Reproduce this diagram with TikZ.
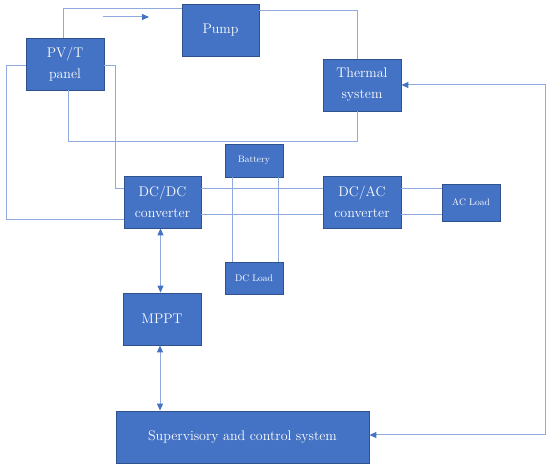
\documentclass[tikz,border=0pt]{standalone}
\usetikzlibrary{arrows.meta}
\definecolor{boxblue}{HTML}{4472C4}
\definecolor{boxedge}{HTML}{2F528F}
\definecolor{linkblue}{HTML}{8FAADC}
\tikzset{
  blk/.style={draw=boxedge, line width=0.8pt, fill=boxblue, text=white, align=center,
    inner sep=1pt, font=\fontsize{14}{21}\selectfont},
  small/.style={font=\fontsize{9.5}{11}\selectfont},
  link/.style={draw=linkblue, line width=1pt},
  arr/.style={link, {Triangle[width=6pt,length=7pt,color=boxblue]}-{Triangle[width=6pt,length=7pt,color=boxblue]}}
}
\begin{document}
\begin{tikzpicture}[x=1pt, y=-1pt]
  \useasboundingbox (0,0) rectangle (550,468);
  % blocks
  \node[blk, minimum width=78pt, minimum height=52pt] (pv) at (65,64) {PV/T\\panel};
  \node[blk, minimum width=77pt, minimum height=52pt] (pump) at (220.5,30) {Pump};
  \node[blk, minimum width=78pt, minimum height=52pt] (thermal) at (362,85) {Thermal\\system};
  \node[blk, small, minimum width=58pt, minimum height=33pt] (battery) at (254,160.5) {Battery};
  \node[blk, minimum width=77pt, minimum height=52pt] (dcdc) at (162.5,202) {DC/DC\\converter};
  \node[blk, small, minimum width=58pt, minimum height=32pt] (dcload) at (254,278) {DC Load};
  \node[blk, minimum width=78pt, minimum height=52pt] (dcac) at (362,202) {DC/AC\\converter};
  \node[blk, small, minimum width=58pt, minimum height=37pt] (acload) at (471,202.5) {AC Load};
  \node[blk, minimum width=78pt, minimum height=52pt] (mppt) at (162,319) {MPPT};
  \node[blk, minimum width=253pt, minimum height=52pt] (sup) at (242.5,437) {Supervisory and control system};
  % flow direction
  \coordinate (flowA) at (103,17);
  \coordinate (flowB) at (149,17);
  \draw[link, -{Triangle[width=6pt,length=7pt,color=boxblue]}] (flowA) -- (flowB);
  % thermal loop
  \draw[link] ([xshift=-2pt]pv.north) |- ([yshift=-5pt]pump.north west);
  \draw[link] ([yshift=-7pt]pump.north east) -| ([xshift=-5pt]thermal.north);
  \draw[link] ([xshift=3pt]pv.south) -- ++(0,51) -| ([xshift=-5pt]thermal.south);
  % electrical
  \draw[link] ([yshift=-2pt]pv.west) -- ++(-19,0) |- ([yshift=-18pt]dcdc.west);
  \draw[link] ([yshift=-2pt]pv.east) -- ++(11,0) |- ([yshift=13pt]dcdc.west);
  \draw[link] ([yshift=13pt]dcdc.east) -- ([yshift=13pt]dcac.west);
  \draw[link] ([yshift=-13pt]dcdc.east) -- ([yshift=-13pt]dcac.west);
  \draw[link] ([xshift=-22pt]battery.south) -- ([xshift=-22pt]dcload.north);
  \draw[link] ([xshift=24pt]battery.south) -- ([xshift=24pt]dcload.north);
  \draw[link] ([yshift=13pt]dcac.east) -- ([yshift=13pt]dcac.east -| acload.west);
  \draw[link] ([yshift=-13pt]dcac.east) -- ([yshift=-13pt]dcac.east -| acload.west);
  % control
  \draw[arr] ([xshift=-2pt]dcdc.south) -- ([xshift=-2pt]dcdc.south |- mppt.north);
  \draw[arr] ([xshift=-2pt]mppt.south) -- ([xshift=-2pt]mppt.south |- sup.north);
  \draw[arr] (thermal.east) -- ++(144,0) |- ([yshift=2pt]sup.east);
\end{tikzpicture}
\end{document}
